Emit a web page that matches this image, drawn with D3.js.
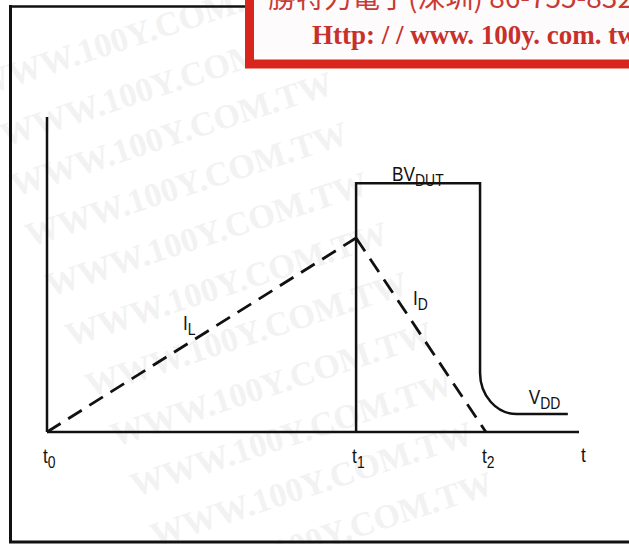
<!DOCTYPE html>
<html><head><meta charset="utf-8">
<script src="https://cdn.jsdelivr.net/npm/d3@7"></script>
<style>html,body{margin:0;padding:0;background:#fff;overflow:hidden}</style>
</head><body>
<script>
// ---- data ----
const timeNames = ["t0", "t1", "t2"];
const timeValues = [0, 58.1, 82.5];
const axisEnd = 100;
const axisLabel = "t";
const peakCurrent = 61.6;          // I_L peak at t1
const bvDut = 79.0;                // breakdown voltage level
const vdd = 5.7;                   // supply voltage level
const vFall = 81.4;                // time when voltage falls
const kneeLevel = 18.7;            // voltage where knee begins
const kneeEnd = 88.3;              // time where knee reaches VDD
const vddEnd = 97.9;               // end of VDD trace
const watermarkText = "WWW.100Y.COM.TW";
const bannerLine1 = "勝特力電子(深圳) 86-755-83298787";
const bannerLine2 = "Http: / / www. 100y. com. tw";

const W = 629, H = 544;
const svg = d3.select("body").append("svg").attr("width", W).attr("height", H);
svg.append("rect").attr("width", W).attr("height", H).attr("fill", "#fff");

// watermarks
const wm = svg.append("g");
const wmRows = [[140,45],[165,95],[175,145],[190,195],[210,245],[230,295],[250,345],[275,395],[295,445],[315,495],[335,545]];
wmRows.forEach(([cx,cy]) => {
  wm.append("text").attr("transform", `translate(${cx},${cy}) rotate(-18)`)
    .attr("text-anchor","middle").attr("font-family","'Liberation Serif','Times New Roman',serif")
    .attr("font-weight","bold").attr("font-size",34).attr("fill","#f2f2f2").text(watermarkText);
});

// outer frame
const frame = svg.append("g").attr("stroke","#111").attr("fill","none");
frame.append("line").attr("x1",10.5).attr("y1",5).attr("x2",10.5).attr("y2",543).attr("stroke-width",3);
frame.append("line").attr("x1",9).attr("y1",6.5).attr("x2",250).attr("y2",6.5).attr("stroke-width",2.5);
frame.append("line").attr("x1",9).attr("y1",542).attr("x2",W).attr("y2",542).attr("stroke-width",3);

// banner
svg.append("rect").attr("x",249.5).attr("y",-20).attr("width",420).attr("height",84)
  .attr("fill","#fdfbfb").attr("stroke","#d9261c").attr("stroke-width",9);
svg.append("text").attr("x",268).attr("y",8).attr("font-family","'Noto Sans CJK TC',serif")
  .attr("font-size",28).attr("fill","#c83a36").text(bannerLine1);
svg.append("text").attr("x",312).attr("y",44).attr("font-family","'Liberation Serif','Times New Roman',serif")
  .attr("font-weight","bold").attr("font-size",27).attr("fill","#c8302c").attr("xml:space","preserve")
  .text(bannerLine2);

// scales
const x = d3.scaleLinear().domain([0, axisEnd]).range([47, 579]);
const y = d3.scaleLinear().domain([0, 100]).range([432, 117]);

const g = svg.append("g");
// axes
g.append("line").attr("x1",x(0)).attr("y1",y(100)).attr("x2",x(0)).attr("y2",y(0)).attr("stroke","#111").attr("stroke-width",2.5);
g.append("line").attr("x1",x(0)).attr("y1",y(0)).attr("x2",x(axisEnd)).attr("y2",y(0)).attr("stroke","#111").attr("stroke-width",2.5);

// currents (dashed)
const line = d3.line().x(d=>x(d[0])).y(d=>y(d[1]));
const IL = [[timeValues[0],0],[timeValues[1],peakCurrent]];
const ID = [[timeValues[1],peakCurrent],[timeValues[2],0]];
[IL, ID].forEach(s => g.append("path").attr("d", line(s)).attr("fill","none")
  .attr("stroke","#111").attr("stroke-width",2.8).attr("stroke-dasharray","16,9"));

// voltage trace
const p = d3.path();
p.moveTo(x(timeValues[1]), y(0));
p.lineTo(x(timeValues[1]), y(bvDut));
p.lineTo(x(vFall), y(bvDut));
p.lineTo(x(vFall), y(kneeLevel));
const kx = x(kneeEnd) - x(vFall), ky = y(vdd) - y(kneeLevel);
p.bezierCurveTo(x(vFall), y(kneeLevel) + 0.55*ky, x(kneeEnd) - 0.55*kx, y(vdd), x(kneeEnd), y(vdd));
p.lineTo(x(vddEnd), y(vdd));
g.append("path").attr("d", p.toString()).attr("fill","none").attr("stroke","#111").attr("stroke-width",2.5);

// labels
const FF = "'Liberation Sans Narrow','Arial Narrow','Liberation Sans',sans-serif";
function sub(xp, yp, main, s) {
  const t = svg.append("text").attr("transform", `translate(${xp},${yp}) scale(0.82,1)`).attr("font-family", FF)
    .attr("font-size", 21).attr("fill","#111");
  t.append("tspan").text(main);
  if (s) t.append("tspan").attr("font-size", 17).attr("dy", 5).text(s);
  return t;
}
timeNames.forEach((n,i) => sub(x(timeValues[i]) - 4, 463, n[0], n.slice(1)));
sub(x(axisEnd) + 2, 462, axisLabel, "");
sub(x(timeValues[1]) + 36, 181, "BV", "DUT");
sub(x(kneeEnd) + 12, 404, "V", "DD");
sub(x(timeValues[0] + (timeValues[1]-timeValues[0])*0.44), 330, "I", "L");
sub(x(timeValues[1] + (timeValues[2]-timeValues[1])*0.43) + 1, 305, "I", "D");
</script>
</body></html>
